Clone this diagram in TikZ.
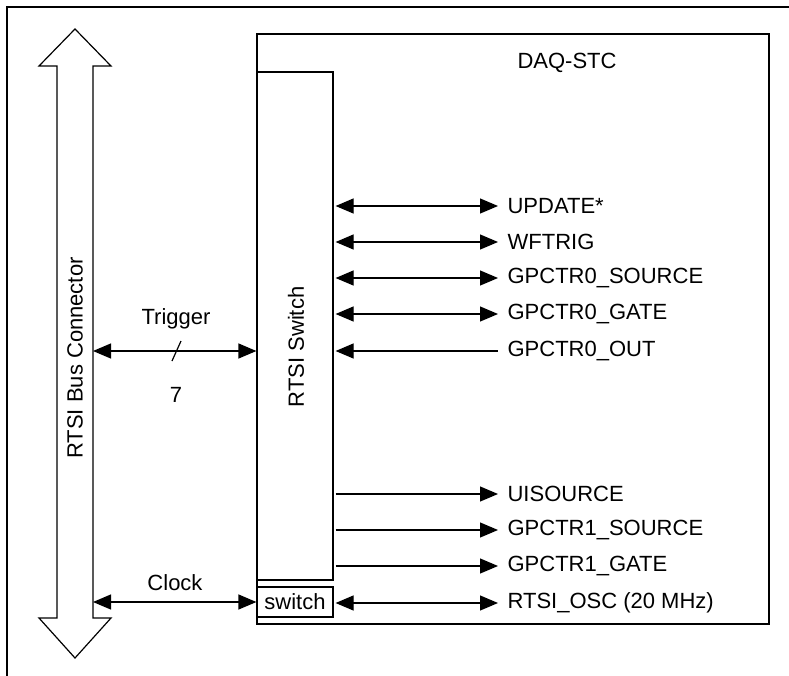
\documentclass[tikz,border=0pt]{standalone}
\usepackage{fontspec}
\setmainfont{Liberation Sans}
\usetikzlibrary{arrows.meta,positioning}

\begin{document}
\begin{tikzpicture}[x=0.5pt, y=-0.5pt, line width=0.6pt,
  dbl/.style={{Triangle[length=9pt,width=7.5pt]}-{Triangle[length=9pt,width=7.5pt]}},
  fwd/.style={-{Triangle[length=9pt,width=7.5pt]}},
  rev/.style={{Triangle[length=9pt,width=7.5pt]}-},
  lbl/.style={font=\fontsize{11}{13}\selectfont, inner sep=0pt},
  sig/.style={lbl, anchor=west}]

  \useasboundingbox (0,0) rectangle (789,676);

  % page frame (top and left only)
  \draw[line width=1.4pt] (789,7) -- (7,7) -- (7,676);

  % RTSI bus (double-headed block arrow)
  \draw (57,66) -- (39,66) -- (75,29) -- (111,66) -- (93,66) -- (93,618)
    -- (111,618) -- (75,658) -- (39,618) -- (57,618) -- cycle;
  \node[lbl, rotate=90] (bus) at (75,358) {RTSI Bus Connector};
  \coordinate (busT) at (93,351);
  \coordinate (busC) at (93,602);

  % DAQ-STC chip
  \draw (257,34) rectangle (769,624);
  \node[lbl] (daq) at (567,63) {DAQ-STC};

  % RTSI switch and clock switch
  \node[draw, minimum width=38pt, minimum height=254pt, inner sep=0pt] (rsw) at (295,326) {};
  \node[lbl, rotate=90] (rswtxt) at (296,347) {RTSI Switch};
  \node[draw, lbl, minimum width=38pt, minimum height=15pt] (sw) at (295,602) {switch};

  % trigger lines
  \draw[dbl] (busT) -- (rsw.west |- busT);
  \node[lbl] (trig) at (176,319) {Trigger};
  \draw (172,361) -- (181,341);
  \node[lbl] (seven) at (176,395) {7};

  % clock line
  \draw[dbl] (busC) -- (sw.west);
  \node[lbl] (clk) at (175,583) {Clock};

  % internal signals
  \foreach \y/\name/\txt/\st in {206/upd/UPDATE*/dbl, 242/wft/WFTRIG/dbl,
                                 278/gsa/GPCTR0\_SOURCE/dbl, 314/gga/GPCTR0\_GATE/dbl,
                                 351/gout/GPCTR0\_OUT/rev,
                                 494/uis/UISOURCE/fwd, 530/gsb/GPCTR1\_SOURCE/fwd,
                                 566/ggb/GPCTR1\_GATE/fwd} {
    \node[sig] (\name) at (507,\y) {\txt};
    \draw[\st, shorten <=1pt, shorten >=4.5pt] (rsw.east |- \name.west) -- (\name.west);
  }
  \node[sig] (osc) at (507,603) {RTSI\_OSC (20 MHz)};
  \draw[dbl, shorten <=1pt, shorten >=4.5pt] (sw.east |- osc.west) -- (osc.west);

\end{tikzpicture}
\end{document}
